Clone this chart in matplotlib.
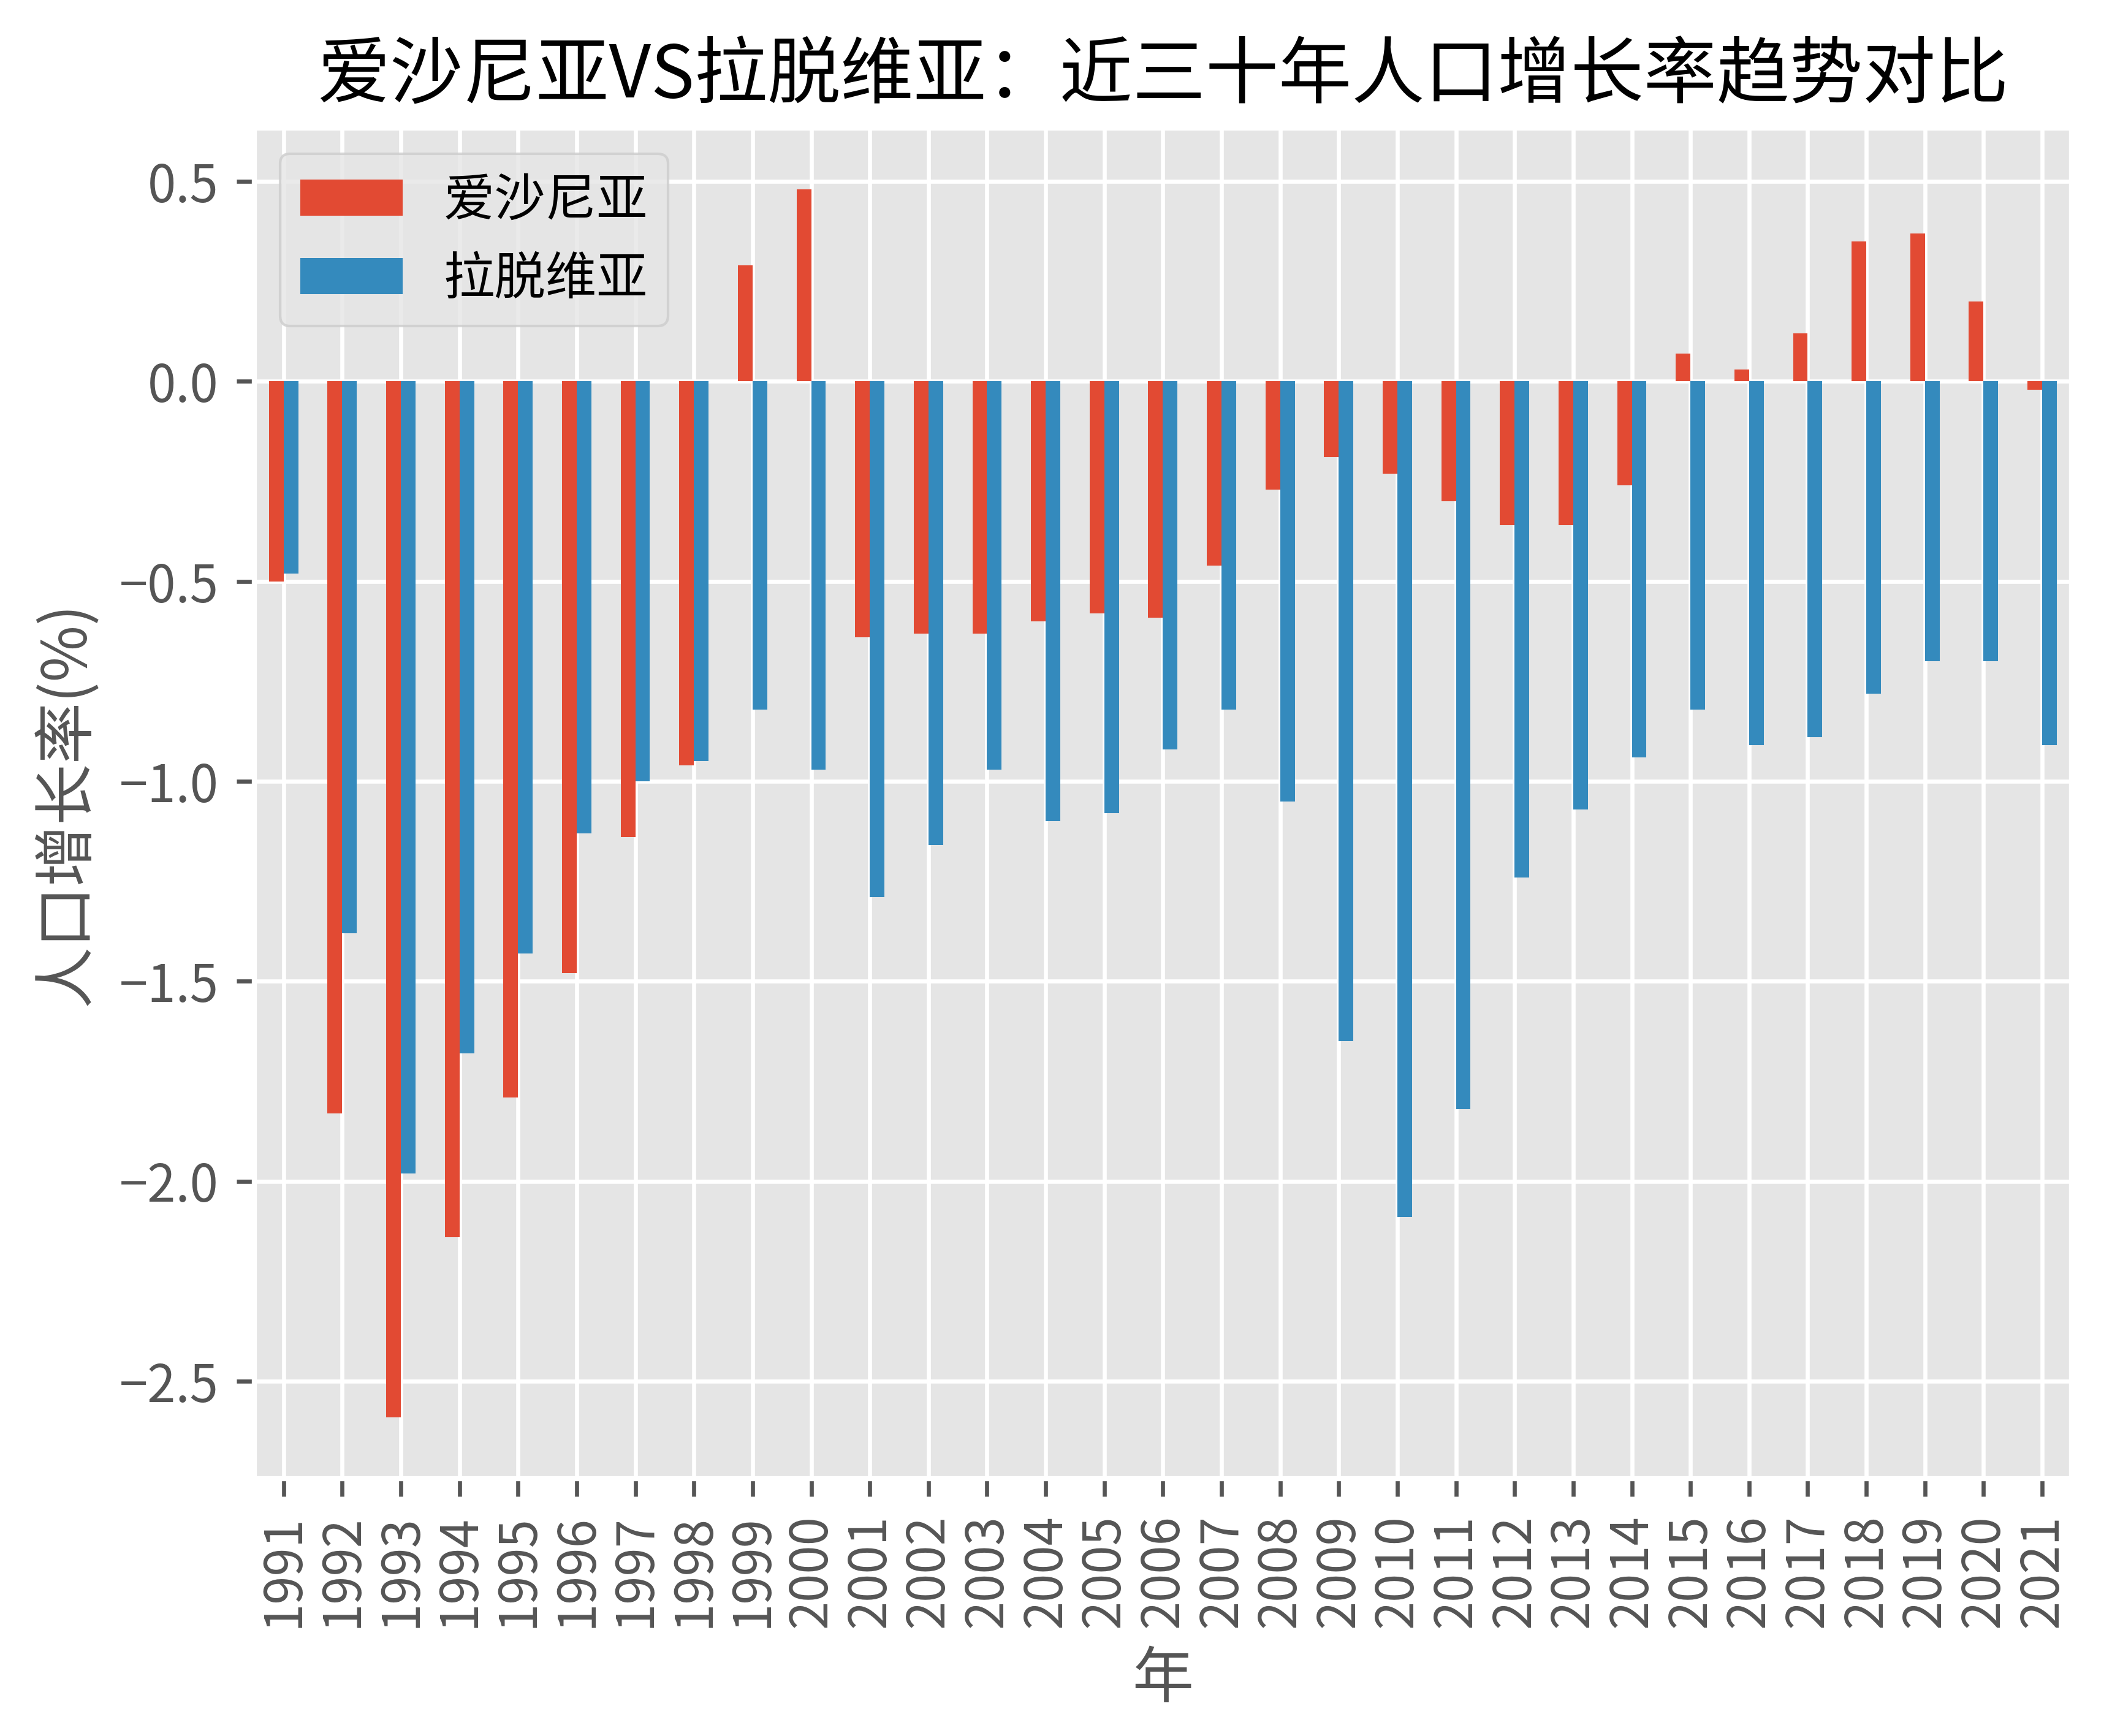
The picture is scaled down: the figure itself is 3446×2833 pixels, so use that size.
import numpy as np
import matplotlib
matplotlib.use("Agg")
import matplotlib.pyplot as plt

plt.style.use("ggplot")
plt.rcParams['font.family'] = ['Noto Sans CJK SC', 'DejaVu Sans']
plt.rcParams['axes.unicode_minus'] = True

years = [str(y) for y in range(1991, 2022)]
estonia = [-0.50, -1.83, -2.59, -2.14, -1.79, -1.48, -1.14, -0.96, 0.29, 0.48,
           -0.64, -0.63, -0.63, -0.60, -0.58, -0.59, -0.46, -0.27, -0.19, -0.23,
           -0.30, -0.36, -0.36, -0.26, 0.07, 0.03, 0.12, 0.35, 0.37, 0.20, -0.02]
latvia = [-0.48, -1.38, -1.98, -1.68, -1.43, -1.13, -1.00, -0.95, -0.82, -0.97,
          -1.29, -1.16, -0.97, -1.10, -1.08, -0.92, -0.82, -1.05, -1.65, -2.09,
          -1.82, -1.24, -1.07, -0.94, -0.82, -0.91, -0.89, -0.78, -0.70, -0.70, -0.91]

fig = plt.figure(figsize=(3446/600, 2833/600), dpi=600)
ax = fig.add_axes([0.1204, 0.1483, 0.8604, 0.7779])

x = np.arange(len(years))
w = 0.25
ax.bar(x - w/2, estonia, width=w, color='#E24A33', label='爱沙尼亚')
ax.bar(x + w/2, latvia, width=w, color='#348ABD', label='拉脱维亚')

ax.set_xticks(x)
ax.set_xticklabels(years, rotation=90)
ax.set_xlim(-0.5, len(years) - 0.5)
ax.set_xlabel('年', fontsize=12)
ax.set_ylabel('人口增长率(%)', fontsize=12)
ax.set_title('爱沙尼亚VS拉脱维亚：近三十年人口增长率趋势对比', fontsize=14.3, color='black')
ax.legend(loc='upper left')

fig.savefig("out.png", dpi=600)
